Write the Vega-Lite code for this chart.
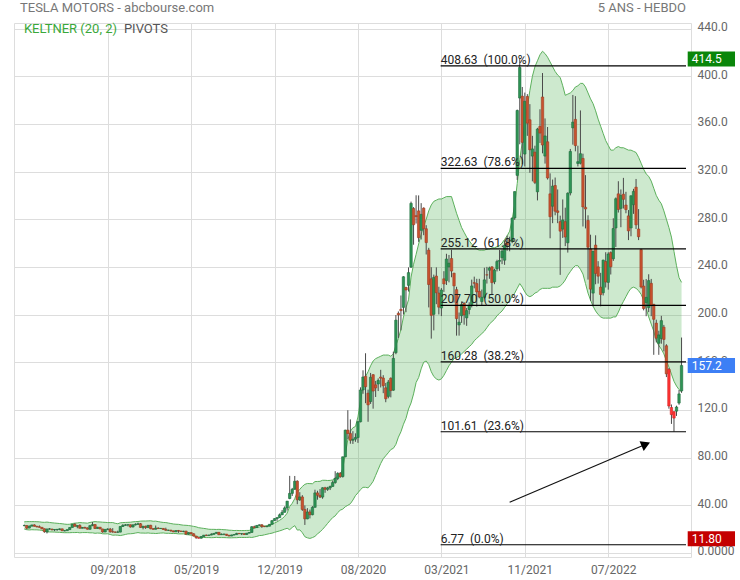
{
"$schema":"https://vega.github.io/schema/vega-lite/v6.json",
"width":677,"height":534,
"autosize":{"type":"none"},
"padding":{"left":14,"top":23,"right":49,"bottom":23},
"background":"#ffffff",
"config":{"view":{"stroke":"#dddddd"},"font":"Roboto"},
"datasets":{
"candles":[
{"d":"2018-01-29","o":22.8,"h":23.7,"l":22.4,"c":22.9,"u":26.0,"k":20.0},
{"d":"2018-02-05","o":22.9,"h":23.2,"l":19.7,"c":20.7,"u":26.2,"k":19.4},
{"d":"2018-02-12","o":20.8,"h":22.9,"l":20.6,"c":22.4,"u":26.2,"k":19.2},
{"d":"2018-02-19","o":22.4,"h":23.5,"l":22.2,"c":23.4,"u":26.2,"k":19.4},
{"d":"2018-02-26","o":23.4,"h":24.0,"l":22.0,"c":22.3,"u":26.2,"k":19.3},
{"d":"2018-03-05","o":22.3,"h":22.6,"l":21.3,"c":21.8,"u":26.1,"k":19.3},
{"d":"2018-03-12","o":21.9,"h":23.0,"l":21.2,"c":21.4,"u":26.0,"k":19.1},
{"d":"2018-03-19","o":21.4,"h":21.5,"l":20.0,"c":20.1,"u":25.7,"k":18.9},
{"d":"2018-03-26","o":20.2,"h":20.4,"l":16.9,"c":17.7,"u":25.6,"k":18.2},
{"d":"2018-04-02","o":17.6,"h":20.3,"l":16.3,"c":20.0,"u":25.8,"k":17.6},
{"d":"2018-04-09","o":20.0,"h":20.8,"l":19.4,"c":20.1,"u":25.5,"k":17.5},
{"d":"2018-04-16","o":19.9,"h":20.2,"l":18.9,"c":19.3,"u":25.2,"k":17.5},
{"d":"2018-04-23","o":19.3,"h":19.8,"l":18.2,"c":19.6,"u":25.0,"k":17.4},
{"d":"2018-04-30","o":19.6,"h":20.0,"l":18.4,"c":19.7,"u":24.8,"k":17.3},
{"d":"2018-05-07","o":19.6,"h":20.5,"l":19.0,"c":20.1,"u":24.6,"k":17.2},
{"d":"2018-05-14","o":20.1,"h":20.3,"l":18.3,"c":18.5,"u":24.4,"k":17.0},
{"d":"2018-05-21","o":18.5,"h":19.2,"l":18.0,"c":18.6,"u":24.1,"k":16.9},
{"d":"2018-05-28","o":18.6,"h":19.5,"l":18.4,"c":19.5,"u":23.9,"k":16.9},
{"d":"2018-06-04","o":19.5,"h":21.5,"l":19.3,"c":21.2,"u":24.0,"k":16.9},
{"d":"2018-06-11","o":21.3,"h":24.2,"l":21.2,"c":23.9,"u":24.6,"k":17.0},
{"d":"2018-06-18","o":24.0,"h":24.9,"l":22.2,"c":22.2,"u":24.9,"k":17.0},
{"d":"2018-06-25","o":22.2,"h":23.0,"l":20.6,"c":22.9,"u":25.1,"k":17.1},
{"d":"2018-07-02","o":22.9,"h":24.0,"l":20.5,"c":20.6,"u":25.4,"k":16.8},
{"d":"2018-07-09","o":20.6,"h":21.6,"l":20.5,"c":21.3,"u":25.2,"k":17.0},
{"d":"2018-07-16","o":21.3,"h":21.9,"l":20.2,"c":20.9,"u":25.1,"k":17.0},
{"d":"2018-07-23","o":20.9,"h":21.3,"l":19.6,"c":19.8,"u":24.9,"k":17.0},
{"d":"2018-07-30","o":19.8,"h":23.2,"l":19.4,"c":22.8,"u":25.5,"k":16.8},
{"d":"2018-08-06","o":22.8,"h":25.8,"l":22.4,"c":23.7,"u":25.9,"k":16.8},
{"d":"2018-08-13","o":23.7,"h":24.1,"l":20.0,"c":20.4,"u":26.2,"k":16.4},
{"d":"2018-08-20","o":20.4,"h":21.8,"l":20.2,"c":21.5,"u":26.0,"k":16.6},
{"d":"2018-08-27","o":21.5,"h":21.7,"l":19.8,"c":20.1,"u":25.9,"k":16.5},
{"d":"2018-09-03","o":20.0,"h":20.2,"l":16.9,"c":17.5,"u":25.7,"k":16.0},
{"d":"2018-09-10","o":17.5,"h":19.8,"l":17.3,"c":19.7,"u":25.6,"k":15.9},
{"d":"2018-09-17","o":19.7,"h":20.6,"l":19.0,"c":19.9,"u":25.4,"k":16.0},
{"d":"2018-09-24","o":19.9,"h":20.9,"l":16.9,"c":17.7,"u":25.4,"k":15.4},
{"d":"2018-10-01","o":17.7,"h":20.7,"l":16.9,"c":17.5,"u":25.4,"k":14.8},
{"d":"2018-10-08","o":17.5,"h":17.8,"l":16.7,"c":17.3,"u":24.8,"k":14.9},
{"d":"2018-10-15","o":17.3,"h":18.6,"l":16.8,"c":17.4,"u":24.4,"k":14.8},
{"d":"2018-10-22","o":17.4,"h":22.3,"l":17.2,"c":22.1,"u":25.2,"k":14.5},
{"d":"2018-10-29","o":22.1,"h":24.0,"l":21.7,"c":23.1,"u":25.4,"k":14.9},
{"d":"2018-11-05","o":23.1,"h":24.2,"l":22.7,"c":23.4,"u":25.5,"k":15.4},
{"d":"2018-11-12","o":23.4,"h":23.8,"l":22.2,"c":23.6,"u":25.6,"k":15.9},
{"d":"2018-11-19","o":23.6,"h":23.7,"l":21.2,"c":21.7,"u":25.7,"k":16.0},
{"d":"2018-11-26","o":21.7,"h":24.0,"l":21.3,"c":23.4,"u":26.0,"k":16.2},
{"d":"2018-12-03","o":23.4,"h":24.8,"l":23.0,"c":23.9,"u":26.2,"k":16.6},
{"d":"2018-12-10","o":23.9,"h":25.3,"l":23.6,"c":24.4,"u":26.3,"k":17.0},
{"d":"2018-12-17","o":24.4,"h":25.0,"l":21.0,"c":21.3,"u":26.6,"k":16.6},
{"d":"2018-12-24","o":21.3,"h":22.6,"l":19.7,"c":22.3,"u":26.7,"k":16.6},
{"d":"2018-12-31","o":22.3,"h":22.8,"l":20.1,"c":21.2,"u":26.7,"k":16.5},
{"d":"2019-01-07","o":21.2,"h":23.2,"l":21.0,"c":23.1,"u":26.8,"k":16.7},
{"d":"2019-01-14","o":23.1,"h":23.5,"l":19.8,"c":20.2,"u":26.9,"k":16.4},
{"d":"2019-01-21","o":20.2,"h":20.8,"l":19.4,"c":19.8,"u":26.5,"k":16.4},
{"d":"2019-01-28","o":19.8,"h":22.9,"l":19.6,"c":20.8,"u":26.6,"k":16.2},
{"d":"2019-02-04","o":20.8,"h":21.4,"l":20.1,"c":20.4,"u":26.2,"k":16.4},
{"d":"2019-02-11","o":20.4,"h":20.9,"l":20.2,"c":20.5,"u":25.8,"k":16.6},
{"d":"2019-02-18","o":20.5,"h":20.7,"l":19.4,"c":19.6,"u":25.5,"k":16.7},
{"d":"2019-02-25","o":19.6,"h":21.1,"l":18.5,"c":18.9,"u":25.4,"k":16.4},
{"d":"2019-03-04","o":18.9,"h":19.4,"l":18.3,"c":19.0,"u":25.0,"k":16.4},
{"d":"2019-03-11","o":19.0,"h":19.3,"l":17.8,"c":18.4,"u":24.6,"k":16.3},
{"d":"2019-03-18","o":18.4,"h":18.7,"l":17.4,"c":17.6,"u":24.2,"k":16.2},
{"d":"2019-03-25","o":17.6,"h":18.9,"l":17.5,"c":18.7,"u":24.0,"k":16.2},
{"d":"2019-04-01","o":18.7,"h":19.2,"l":16.8,"c":18.3,"u":23.9,"k":15.9},
{"d":"2019-04-08","o":18.3,"h":18.5,"l":17.6,"c":17.9,"u":23.5,"k":15.9},
{"d":"2019-04-15","o":17.9,"h":18.5,"l":17.3,"c":18.2,"u":23.2,"k":15.9},
{"d":"2019-04-22","o":18.2,"h":18.5,"l":15.3,"c":15.7,"u":23.1,"k":15.3},
{"d":"2019-04-29","o":15.7,"h":17.2,"l":15.2,"c":17.0,"u":22.9,"k":15.1},
{"d":"2019-05-06","o":17.0,"h":17.1,"l":15.4,"c":16.0,"u":22.6,"k":14.8},
{"d":"2019-05-13","o":16.0,"h":16.4,"l":13.8,"c":14.1,"u":22.2,"k":14.3},
{"d":"2019-05-20","o":14.1,"h":14.2,"l":11.8,"c":12.7,"u":21.8,"k":13.7},
{"d":"2019-05-27","o":12.7,"h":13.0,"l":12.0,"c":12.3,"u":21.1,"k":13.4},
{"d":"2019-06-03","o":12.3,"h":14.0,"l":11.9,"c":13.6,"u":20.8,"k":13.0},
{"d":"2019-06-10","o":13.6,"h":15.0,"l":13.5,"c":14.8,"u":20.5,"k":12.9},
{"d":"2019-06-17","o":14.8,"h":15.4,"l":14.1,"c":14.6,"u":20.2,"k":12.8},
{"d":"2019-06-24","o":14.6,"h":15.2,"l":14.3,"c":14.9,"u":19.8,"k":12.8},
{"d":"2019-07-01","o":14.9,"h":16.5,"l":14.8,"c":15.5,"u":19.7,"k":12.7},
{"d":"2019-07-08","o":15.5,"h":16.6,"l":15.3,"c":16.3,"u":19.7,"k":12.8},
{"d":"2019-07-15","o":16.3,"h":17.3,"l":16.2,"c":17.2,"u":19.6,"k":13.0},
{"d":"2019-07-22","o":17.2,"h":17.5,"l":14.9,"c":15.2,"u":19.7,"k":12.8},
{"d":"2019-07-29","o":15.2,"h":16.3,"l":15.0,"c":15.6,"u":19.6,"k":12.8},
{"d":"2019-08-05","o":15.6,"h":16.0,"l":14.8,"c":15.7,"u":19.4,"k":12.8},
{"d":"2019-08-12","o":15.7,"h":15.8,"l":14.3,"c":14.7,"u":19.3,"k":12.7},
{"d":"2019-08-19","o":14.7,"h":15.1,"l":13.9,"c":14.1,"u":19.0,"k":12.6},
{"d":"2019-08-26","o":14.1,"h":15.2,"l":14.0,"c":15.0,"u":18.9,"k":12.6},
{"d":"2019-09-02","o":15.0,"h":15.6,"l":14.6,"c":15.3,"u":18.7,"k":12.7},
{"d":"2019-09-09","o":15.3,"h":16.8,"l":15.2,"c":16.3,"u":18.8,"k":12.7},
{"d":"2019-09-16","o":16.3,"h":16.5,"l":15.8,"c":16.0,"u":18.7,"k":12.9},
{"d":"2019-09-23","o":16.0,"h":16.5,"l":14.9,"c":16.1,"u":18.7,"k":12.9},
{"d":"2019-09-30","o":16.1,"h":16.4,"l":15.0,"c":15.4,"u":18.7,"k":12.9},
{"d":"2019-10-07","o":15.4,"h":16.6,"l":15.1,"c":16.5,"u":18.8,"k":12.9},
{"d":"2019-10-14","o":16.5,"h":17.4,"l":16.4,"c":17.1,"u":18.8,"k":13.1},
{"d":"2019-10-21","o":17.1,"h":22.3,"l":16.9,"c":21.9,"u":20.1,"k":12.9},
{"d":"2019-10-28","o":21.9,"h":22.8,"l":20.6,"c":21.2,"u":20.6,"k":13.3},
{"d":"2019-11-04","o":21.2,"h":23.1,"l":20.9,"c":23.0,"u":21.3,"k":13.8},
{"d":"2019-11-11","o":23.0,"h":23.8,"l":22.7,"c":23.5,"u":21.7,"k":14.5},
{"d":"2019-11-18","o":23.5,"h":24.1,"l":20.9,"c":22.2,"u":22.4,"k":14.6},
{"d":"2019-11-25","o":22.2,"h":22.6,"l":21.6,"c":22.0,"u":22.5,"k":15.1},
{"d":"2019-12-02","o":22.0,"h":22.6,"l":21.5,"c":22.4,"u":22.7,"k":15.6},
{"d":"2019-12-09","o":22.4,"h":24.0,"l":22.3,"c":23.9,"u":23.1,"k":16.1},
{"d":"2019-12-16","o":23.9,"h":27.4,"l":23.8,"c":27.0,"u":24.2,"k":16.5},
{"d":"2019-12-23","o":27.0,"h":29.0,"l":26.9,"c":28.7,"u":25.0,"k":17.2},
{"d":"2019-12-30","o":28.7,"h":30.0,"l":26.8,"c":29.5,"u":26.0,"k":17.8},
{"d":"2020-01-06","o":29.5,"h":33.0,"l":29.3,"c":31.9,"u":27.3,"k":18.4},
{"d":"2020-01-13","o":31.9,"h":36.0,"l":31.8,"c":34.0,"u":28.7,"k":19.1},
{"d":"2020-01-20","o":34.0,"h":39.0,"l":33.9,"c":37.7,"u":30.6,"k":19.9},
{"d":"2020-01-27","o":37.7,"h":43.5,"l":35.5,"c":43.4,"u":33.3,"k":20.6},
{"d":"2020-02-03","o":45.6,"h":64.6,"l":45.0,"c":49.9,"u":38.9,"k":19.4},
{"d":"2020-02-10","o":49.9,"h":54.5,"l":47.7,"c":53.3,"u":41.6,"k":21.3},
{"d":"2020-02-17","o":53.3,"h":64.5,"l":53.0,"c":60.1,"u":45.5,"k":22.8},
{"d":"2020-02-24","o":60.1,"h":60.9,"l":40.8,"c":44.5,"u":51.1,"k":19.1},
{"d":"2020-03-02","o":44.5,"h":50.9,"l":43.5,"c":46.9,"u":53.3,"k":19.3},
{"d":"2020-03-09","o":46.9,"h":48.4,"l":35.2,"c":36.4,"u":55.7,"k":16.9},
{"d":"2020-03-16","o":36.4,"h":39.8,"l":23.4,"c":28.5,"u":57.5,"k":13.5},
{"d":"2020-03-23","o":28.5,"h":37.5,"l":28.2,"c":34.3,"u":58.2,"k":12.6},
{"d":"2020-03-30","o":34.3,"h":36.3,"l":28.9,"c":32.0,"u":58.1,"k":12.1},
{"d":"2020-04-06","o":32.0,"h":39.2,"l":31.5,"c":38.2,"u":58.0,"k":12.8},
{"d":"2020-04-13","o":38.2,"h":53.0,"l":38.0,"c":50.3,"u":59.8,"k":13.8},
{"d":"2020-04-20","o":50.3,"h":52.1,"l":44.6,"c":48.3,"u":59.9,"k":15.9},
{"d":"2020-04-27","o":48.3,"h":53.5,"l":46.0,"c":46.8,"u":60.0,"k":17.6},
{"d":"2020-05-04","o":46.8,"h":55.0,"l":45.4,"c":54.6,"u":60.9,"k":19.7},
{"d":"2020-05-11","o":54.6,"h":55.4,"l":50.4,"c":53.3,"u":60.9,"k":22.1},
{"d":"2020-05-18","o":53.3,"h":55.4,"l":52.0,"c":54.5,"u":60.7,"k":24.7},
{"d":"2020-05-25","o":54.5,"h":56.4,"l":52.7,"c":55.7,"u":60.8,"k":27.2},
{"d":"2020-06-01","o":55.7,"h":60.6,"l":55.5,"c":59.0,"u":61.2,"k":29.6},
{"d":"2020-06-08","o":59.0,"h":68.5,"l":58.0,"c":62.4,"u":63.0,"k":31.0},
{"d":"2020-06-15","o":62.4,"h":67.6,"l":61.0,"c":66.7,"u":63.9,"k":33.8},
{"d":"2020-06-22","o":66.7,"h":67.8,"l":63.0,"c":64.0,"u":64.8,"k":35.8},
{"d":"2020-06-29","o":64.0,"h":80.7,"l":63.2,"c":80.6,"u":71.0,"k":36.7},
{"d":"2020-07-06","o":80.6,"h":103.3,"l":80.3,"c":103.0,"u":83.0,"k":38.7},
{"d":"2020-07-13","o":103.0,"h":119.7,"l":95.3,"c":100.1,"u":95.0,"k":39.9},
{"d":"2020-07-20","o":100.1,"h":112.0,"l":91.6,"c":94.5,"u":102.0,"k":41.2},
{"d":"2020-07-27","o":94.5,"h":102.1,"l":91.4,"c":95.4,"u":105.0,"k":44.3},
{"d":"2020-08-03","o":95.4,"h":100.3,"l":93.2,"c":96.8,"u":106.0,"k":48.0},
{"d":"2020-08-10","o":96.8,"h":110.7,"l":92.3,"c":110.0,"u":114.0,"k":50.4},
{"d":"2020-08-17","o":110.0,"h":138.9,"l":109.5,"c":136.7,"u":128.0,"k":53.0},
{"d":"2020-08-24","o":136.7,"h":153.2,"l":133.5,"c":147.6,"u":139.0,"k":55.0},
{"d":"2020-08-31","o":148.2,"h":167.5,"l":125.6,"c":139.4,"u":148.0,"k":55.0},
{"d":"2020-09-07","o":134.0,"h":137.0,"l":110.0,"c":124.2,"u":152.0,"k":54.5},
{"d":"2020-09-14","o":127.0,"h":151.0,"l":125.0,"c":147.4,"u":157.0,"k":57.0},
{"d":"2020-09-21","o":149.5,"h":150.0,"l":121.0,"c":135.8,"u":161.0,"k":60.0},
{"d":"2020-09-28","o":141.0,"h":144.3,"l":130.8,"c":138.4,"u":163.0,"k":65.0},
{"d":"2020-10-05","o":141.7,"h":146.4,"l":135.8,"c":144.7,"u":164.0,"k":70.0},
{"d":"2020-10-12","o":147.5,"h":153.6,"l":138.8,"c":146.6,"u":165.0,"k":75.0},
{"d":"2020-10-19","o":146.7,"h":149.1,"l":134.0,"c":140.2,"u":166.0,"k":79.0},
{"d":"2020-10-26","o":138.5,"h":142.6,"l":126.4,"c":129.3,"u":166.0,"k":81.5},
{"d":"2020-11-02","o":131.3,"h":145.1,"l":129.7,"c":143.3,"u":166.0,"k":84.0},
{"d":"2020-11-09","o":146.5,"h":147.3,"l":130.5,"c":136.2,"u":165.0,"k":86.7},
{"d":"2020-11-16","o":136.5,"h":168.8,"l":136.0,"c":163.2,"u":167.0,"k":87.7},
{"d":"2020-11-23","o":168.0,"h":199.6,"l":166.7,"c":195.3,"u":174.0,"k":91.0},
{"d":"2020-11-30","o":201.0,"h":202.6,"l":180.4,"c":199.7,"u":180.0,"k":97.1},
{"d":"2020-12-07","o":204.3,"h":216.0,"l":186.7,"c":203.3,"u":187.6,"k":101.6},
{"d":"2020-12-14","o":206.0,"h":232.2,"l":200.0,"c":231.7,"u":197.9,"k":107.9},
{"d":"2020-12-21","o":222.7,"h":223.3,"l":202.0,"c":220.6,"u":205.7,"k":112.9},
{"d":"2020-12-28","o":224.5,"h":239.6,"l":219.3,"c":235.2,"u":212.4,"k":120.7},
{"d":"2021-01-04","o":239.8,"h":294.8,"l":239.1,"c":293.3,"u":231.4,"k":125.8},
{"d":"2021-01-11","o":289.0,"h":290.2,"l":258.6,"c":275.4,"u":242.2,"k":133.4},
{"d":"2021-01-18","o":283.0,"h":300.1,"l":276.4,"c":282.2,"u":250.5,"k":143.0},
{"d":"2021-01-25","o":287.0,"h":300.0,"l":261.0,"c":264.5,"u":259.2,"k":147.1},
{"d":"2021-02-01","o":270.7,"h":293.5,"l":263.0,"c":284.1,"u":267.4,"k":154.4},
{"d":"2021-02-08","o":289.3,"h":290.0,"l":266.6,"c":272.0,"u":274.0,"k":160.0},
{"d":"2021-02-15","o":272.0,"h":275.0,"l":250.4,"c":260.4,"u":280.0,"k":161.0},
{"d":"2021-02-22","o":254.1,"h":256.0,"l":206.0,"c":225.2,"u":287.0,"k":158.0},
{"d":"2021-03-01","o":230.0,"h":239.7,"l":179.8,"c":199.3,"u":292.0,"k":152.0},
{"d":"2021-03-08","o":200.2,"h":233.5,"l":186.7,"c":231.2,"u":295.0,"k":148.0},
{"d":"2021-03-15","o":232.3,"h":239.6,"l":208.7,"c":218.3,"u":296.0,"k":146.0},
{"d":"2021-03-22","o":218.0,"h":223.3,"l":200.1,"c":206.2,"u":297.0,"k":145.0},
{"d":"2021-03-29","o":205.5,"h":222.2,"l":198.7,"c":220.6,"u":297.0,"k":146.0},
{"d":"2021-04-05","o":230.0,"h":236.4,"l":219.0,"c":225.7,"u":298.0,"k":149.0},
{"d":"2021-04-12","o":228.5,"h":251.0,"l":224.8,"c":246.6,"u":299.0,"k":153.0},
{"d":"2021-04-19","o":240.0,"h":250.0,"l":227.0,"c":243.1,"u":299.0,"k":157.0},
{"d":"2021-04-26","o":247.0,"h":254.3,"l":231.3,"c":236.5,"u":299.0,"k":160.0},
{"d":"2021-05-03","o":234.7,"h":235.0,"l":210.0,"c":224.1,"u":292.0,"k":163.0},
{"d":"2021-05-10","o":220.9,"h":223.3,"l":182.3,"c":196.6,"u":285.0,"k":164.0},
{"d":"2021-05-17","o":191.3,"h":201.7,"l":182.3,"c":193.6,"u":279.0,"k":165.0},
{"d":"2021-05-24","o":199.0,"h":211.0,"l":193.0,"c":208.4,"u":273.0,"k":167.0},
{"d":"2021-05-31","o":209.3,"h":210.4,"l":191.5,"c":199.7,"u":269.0,"k":169.0},
{"d":"2021-06-07","o":197.2,"h":205.5,"l":190.5,"c":203.3,"u":265.0,"k":171.0},
{"d":"2021-06-14","o":204.2,"h":210.3,"l":200.1,"c":207.8,"u":262.0,"k":173.0},
{"d":"2021-06-21","o":208.3,"h":229.3,"l":206.0,"c":224.0,"u":259.0,"k":175.0},
{"d":"2021-06-28","o":226.7,"h":231.8,"l":222.0,"c":226.3,"u":257.0,"k":178.0},
{"d":"2021-07-05","o":226.0,"h":230.0,"l":206.7,"c":219.0,"u":255.0,"k":180.0},
{"d":"2021-07-12","o":219.5,"h":230.0,"l":213.6,"c":214.7,"u":254.0,"k":182.0},
{"d":"2021-07-19","o":210.9,"h":221.0,"l":207.9,"c":214.5,"u":254.0,"k":184.0},
{"d":"2021-07-26","o":214.5,"h":239.3,"l":213.3,"c":229.1,"u":254.0,"k":186.0},
{"d":"2021-08-02","o":233.3,"h":240.0,"l":226.0,"c":233.2,"u":255.0,"k":189.0},
{"d":"2021-08-09","o":237.2,"h":240.2,"l":230.0,"c":239.1,"u":255.0,"k":192.0},
{"d":"2021-08-16","o":240.0,"h":240.5,"l":216.3,"c":226.8,"u":256.0,"k":194.0},
{"d":"2021-08-23","o":227.5,"h":238.5,"l":225.5,"c":237.3,"u":256.0,"k":196.0},
{"d":"2021-08-30","o":238.4,"h":246.0,"l":236.2,"c":244.5,"u":257.0,"k":199.0},
{"d":"2021-09-06","o":244.7,"h":254.2,"l":236.7,"c":245.4,"u":258.0,"k":201.0},
{"d":"2021-09-13","o":247.7,"h":254.6,"l":242.3,"c":253.2,"u":260.0,"k":203.0},
{"d":"2021-09-20","o":245.6,"h":262.2,"l":241.7,"c":258.1,"u":263.0,"k":206.0},
{"d":"2021-09-27","o":260.2,"h":266.3,"l":253.5,"c":258.4,"u":266.0,"k":209.0},
{"d":"2021-10-04","o":262.0,"h":265.3,"l":253.1,"c":261.8,"u":270.0,"k":212.0},
{"d":"2021-10-11","o":261.3,"h":281.3,"l":259.9,"c":281.0,"u":280.0,"k":215.0},
{"d":"2021-10-18","o":281.1,"h":303.3,"l":279.5,"c":303.2,"u":292.0,"k":218.0},
{"d":"2021-10-25","o":316.8,"h":372.0,"l":313.0,"c":371.3,"u":310.0,"k":222.0},
{"d":"2021-11-01","o":381.7,"h":414.5,"l":342.9,"c":407.4,"u":330.0,"k":226.0},
{"d":"2021-11-08","o":383.3,"h":391.0,"l":326.3,"c":344.5,"u":345.0,"k":223.0},
{"d":"2021-11-15","o":334.7,"h":386.3,"l":324.3,"c":379.0,"u":362.0,"k":219.0},
{"d":"2021-11-22","o":383.0,"h":385.0,"l":350.0,"c":360.6,"u":374.0,"k":216.0},
{"d":"2021-11-29","o":363.5,"h":376.6,"l":319.0,"c":338.3,"u":388.0,"k":215.0},
{"d":"2021-12-06","o":333.0,"h":350.0,"l":311.8,"c":339.0,"u":400.0,"k":216.0},
{"d":"2021-12-13","o":336.3,"h":341.7,"l":309.5,"c":310.9,"u":408.0,"k":218.0},
{"d":"2021-12-20","o":303.0,"h":356.7,"l":295.8,"c":355.7,"u":413.0,"k":219.0},
{"d":"2021-12-27","o":357.9,"h":372.3,"l":344.0,"c":352.3,"u":418.0,"k":221.0},
{"d":"2022-01-03","o":382.6,"h":402.7,"l":335.3,"c":342.3,"u":421.0,"k":222.0},
{"d":"2022-01-10","o":333.0,"h":364.6,"l":326.7,"c":349.9,"u":419.0,"k":222.0},
{"d":"2022-01-17","o":345.0,"h":357.4,"l":313.3,"c":314.6,"u":416.0,"k":222.0},
{"d":"2022-01-24","o":301.3,"h":318.5,"l":264.0,"c":282.1,"u":412.0,"k":222.0},
{"d":"2022-01-31","o":290.9,"h":313.3,"l":276.7,"c":307.8,"u":408.0,"k":223.0},
{"d":"2022-02-07","o":308.3,"h":315.0,"l":283.3,"c":286.7,"u":404.0,"k":223.0},
{"d":"2022-02-14","o":287.0,"h":305.0,"l":276.7,"c":285.7,"u":401.0,"k":223.0},
{"d":"2022-02-21","o":278.0,"h":283.0,"l":233.3,"c":270.0,"u":399.0,"k":224.0},
{"d":"2022-02-28","o":271.7,"h":296.6,"l":264.3,"c":279.4,"u":392.0,"k":226.0},
{"d":"2022-03-07","o":278.0,"h":289.7,"l":257.4,"c":265.1,"u":384.0,"k":229.0},
{"d":"2022-03-14","o":260.2,"h":302.6,"l":252.0,"c":301.8,"u":385.0,"k":233.0},
{"d":"2022-03-21","o":302.0,"h":339.0,"l":300.0,"c":336.9,"u":386.0,"k":236.0},
{"d":"2022-03-28","o":356.7,"h":384.3,"l":342.6,"c":361.5,"u":388.0,"k":239.0},
{"d":"2022-04-04","o":363.8,"h":383.3,"l":337.0,"c":341.8,"u":391.0,"k":241.0},
{"d":"2022-04-11","o":326.8,"h":341.7,"l":324.3,"c":328.3,"u":392.0,"k":241.0},
{"d":"2022-04-18","o":327.0,"h":371.3,"l":326.0,"c":335.0,"u":394.0,"k":238.0},
{"d":"2022-04-25","o":331.0,"h":335.0,"l":273.9,"c":290.3,"u":394.0,"k":234.0},
{"d":"2022-05-02","o":290.0,"h":317.0,"l":272.3,"c":288.6,"u":391.0,"k":226.0},
{"d":"2022-05-09","o":279.0,"h":283.3,"l":229.3,"c":256.5,"u":386.0,"k":218.0},
{"d":"2022-05-16","o":255.0,"h":267.0,"l":211.5,"c":221.3,"u":381.0,"k":212.0},
{"d":"2022-05-23","o":218.0,"h":253.5,"l":206.9,"c":253.2,"u":377.0,"k":207.0},
{"d":"2022-05-30","o":258.3,"h":266.5,"l":225.4,"c":234.5,"u":371.0,"k":203.0},
{"d":"2022-06-06","o":240.0,"h":244.8,"l":226.0,"c":232.2,"u":364.0,"k":200.0},
{"d":"2022-06-13","o":223.0,"h":235.0,"l":206.9,"c":216.8,"u":358.0,"k":198.0},
{"d":"2022-06-20","o":218.3,"h":246.0,"l":216.0,"c":245.7,"u":352.0,"k":197.0},
{"d":"2022-06-27","o":244.5,"h":252.3,"l":222.7,"c":227.3,"u":346.0,"k":197.0},
{"d":"2022-07-04","o":227.0,"h":252.3,"l":220.9,"c":250.8,"u":342.0,"k":197.0},
{"d":"2022-07-11","o":252.0,"h":253.0,"l":233.6,"c":240.1,"u":338.0,"k":197.0},
{"d":"2022-07-18","o":246.8,"h":280.8,"l":245.0,"c":272.2,"u":338.0,"k":198.0},
{"d":"2022-07-25","o":272.7,"h":298.3,"l":256.7,"c":297.2,"u":340.0,"k":198.0},
{"d":"2022-08-01","o":301.3,"h":311.9,"l":285.6,"c":288.2,"u":341.0,"k":202.0},
{"d":"2022-08-08","o":289.1,"h":305.0,"l":273.3,"c":300.0,"u":340.0,"k":207.0},
{"d":"2022-08-15","o":301.0,"h":314.7,"l":289.0,"c":296.7,"u":340.0,"k":211.0},
{"d":"2022-08-22","o":291.9,"h":303.0,"l":285.0,"c":288.1,"u":339.0,"k":215.0},
{"d":"2022-08-29","o":282.8,"h":287.7,"l":262.5,"c":270.2,"u":338.0,"k":219.0},
{"d":"2022-09-05","o":272.7,"h":299.9,"l":265.7,"c":299.7,"u":338.0,"k":222.0},
{"d":"2022-09-12","o":292.2,"h":305.5,"l":284.5,"c":303.4,"u":337.0,"k":223.0},
{"d":"2022-09-19","o":306.9,"h":313.8,"l":271.8,"c":275.3,"u":336.0,"k":222.0},
{"d":"2022-09-26","o":271.8,"h":288.5,"l":262.5,"c":265.3,"u":332.0,"k":220.0},
{"d":"2022-10-03","o":254.5,"h":255.2,"l":221.9,"c":223.1,"u":327.0,"k":217.0},
{"d":"2022-10-10","o":223.9,"h":229.2,"l":203.5,"c":205.0,"u":322.0,"k":212.0},
{"d":"2022-10-17","o":210.0,"h":229.8,"l":198.6,"c":214.4,"u":318.0,"k":205.0},
{"d":"2022-10-24","o":205.8,"h":233.8,"l":202.0,"c":228.5,"u":316.0,"k":198.0},
{"d":"2022-10-31","o":226.2,"h":229.9,"l":198.6,"c":207.5,"u":312.0,"k":192.0},
{"d":"2022-11-07","o":208.6,"h":208.9,"l":166.2,"c":196.0,"u":306.0,"k":186.0},
{"d":"2022-11-14","o":192.8,"h":195.7,"l":176.6,"c":180.2,"u":300.0,"k":178.0},
{"d":"2022-11-21","o":175.9,"h":186.4,"l":166.2,"c":182.9,"u":296.0,"k":174.0},
{"d":"2022-11-28","o":179.9,"h":198.9,"l":175.5,"c":194.9,"u":293.0,"k":171.0},
{"d":"2022-12-05","o":189.4,"h":191.3,"l":169.1,"c":179.1,"u":287.0,"k":167.0},
{"d":"2022-12-12","o":173.8,"h":175.1,"l":147.5,"c":150.2,"u":280.0,"k":161.0},
{"d":"2022-12-19","o":154.0,"h":155.2,"l":121.0,"c":123.2,"u":273.0,"k":156.0},
{"d":"2022-12-26","o":122.0,"h":124.5,"l":108.2,"c":116.0,"u":265.0,"k":150.0},
{"d":"2023-01-02","o":118.5,"h":118.8,"l":101.8,"c":113.1,"u":253.0,"k":144.0},
{"d":"2023-01-09","o":118.9,"h":123.5,"l":114.9,"c":122.4,"u":241.0,"k":140.0},
{"d":"2023-01-16","o":125.7,"h":136.7,"l":124.3,"c":133.4,"u":231.0,"k":137.0},
{"d":"2023-01-23","o":135.9,"h":180.7,"l":134.3,"c":157.2,"u":227.0,"k":135.0}
],
"fib":[
{"v":408.63,"t":"408.63\u00a0 (100.0%)"},
{"v":322.63,"t":"322.63\u00a0 (78.6%)"},
{"v":255.12,"t":"255.12\u00a0 (61.8%)"},
{"v":207.70,"t":"207.70\u00a0 (50.0%)"},
{"v":160.28,"t":"160.28\u00a0 (38.2%)"},
{"v":101.61,"t":"101.61\u00a0 (23.6%)"},
{"v":6.77,"t":"6.77\u00a0 (0.0%)"}
],
"badges":[
{"v":414.5,"t":"414.5","kind":"high"},
{"v":157.2,"t":"157.2","kind":"last"},
{"v":11.8,"t":"11.80","kind":"low"}
]
},
"layer":[
{"data":{"name":"candles"},
 "mark":{"type":"area","color":"#4caf50","opacity":0.28},
 "encoding":{
  "x":{"field":"d","type":"temporal","title":null,
   "scale":{"type":"utc","domain":[{"year":2018,"month":1,"date":14,"hours":12,"utc":true},{"year":2023,"month":2,"date":4,"hours":7,"utc":true}]},
   "axis":{"title":null,"values":[{"year":2018,"month":9,"date":17,"utc":true},{"year":2019,"month":5,"date":6,"utc":true},{"year":2019,"month":12,"date":23,"utc":true},{"year":2020,"month":8,"date":10,"utc":true},{"year":2021,"month":3,"date":29,"utc":true},{"year":2021,"month":11,"date":15,"utc":true},{"year":2022,"month":7,"date":4,"utc":true}],
    "format":"%m/%Y","labelOffset":5,"grid":true,"gridColor":"#dddddd","ticks":false,"domain":false,"labelColor":"#666666","labelFont":"Roboto","labelFontSize":12,"labelPadding":7,"labelFlush":false,"labelOverlap":false}},
  "y":{"field":"u","type":"quantitative","title":null,
   "scale":{"domain":[-3.5,444.7],"nice":false,"zero":false},
   "axis":{"title":null,"orient":"right","values":[0,40,80,120,160,200,240,280,320,360,400,440],
    "labelExpr":"datum.value >= 100 ? format(datum.value, '.1f') : (datum.value >= 10 ? format(datum.value, '.2f') : format(datum.value, '.4f'))",
    "grid":true,"gridColor":"#dddddd","ticks":false,"domain":false,"labelColor":"#666666","labelFont":"Roboto","labelFontSize":12,"labelPadding":6,"labelAlign":"left","labelBaseline":"middle","labelOffset":-2,"labelFlush":false,"labelOverlap":false,"zindex":0}},
  "y2":{"field":"k"}}},
{"data":{"name":"candles"},
 "mark":{"type":"line","color":"#5cb05c","strokeWidth":1},
 "encoding":{"x":{"field":"d","type":"temporal","title":null},"y":{"field":"u","type":"quantitative","title":null}}},
{"data":{"name":"candles"},
 "mark":{"type":"line","color":"#5cb05c","strokeWidth":1},
 "encoding":{"x":{"field":"d","type":"temporal","title":null},"y":{"field":"k","type":"quantitative","title":null}}},
{"data":{"name":"candles"},
 "mark":{"type":"rule","color":"#4a4a4a","strokeWidth":1},
 "encoding":{"x":{"field":"d","type":"temporal","title":null},"y":{"field":"l","type":"quantitative","title":null},"y2":{"field":"h"}}},
{"data":{"name":"candles"},
 "mark":{"type":"bar","width":2.4,"strokeWidth":0.6},
 "encoding":{"x":{"field":"d","type":"temporal","title":null},"y":{"field":"o","type":"quantitative","title":null},"y2":{"field":"c"},
  "fill":{"condition":[{"test":"datum.c < datum.o && datum.o < datum.k","value":"#ff3333"},{"test":"datum.c < datum.o","value":"#c9522f"}],"value":"#2e9455"},
  "stroke":{"condition":[{"test":"datum.c < datum.o && datum.o < datum.k","value":"#d42020"},{"test":"datum.c < datum.o","value":"#9c3a20"}],"value":"#1f6b3c"}}},
{"data":{"name":"fib"},
 "mark":{"type":"rule","color":"#000000","strokeWidth":1.2},
 "encoding":{"x":{"datum":{"year":2021,"month":3,"date":27,"utc":true},"type":"temporal"},"x2":{"datum":{"year":2023,"month":2,"date":4,"hours":7,"utc":true}},"y":{"field":"v","type":"quantitative","title":null}}},
{"data":{"name":"fib"},
 "mark":{"type":"text","align":"left","baseline":"alphabetic","dy":-2,"font":"Roboto","fontSize":12,"color":"#222222"},
 "encoding":{"x":{"datum":{"year":2021,"month":3,"date":27,"utc":true},"type":"temporal"},"y":{"field":"v","type":"quantitative","title":null},"text":{"field":"t"}}},
{"data":{"values":[{}]},
 "mark":{"type":"rule","color":"#111111","strokeWidth":1.2},
 "encoding":{"x":{"datum":{"year":2021,"month":10,"date":4,"utc":true},"type":"temporal"},"y":{"datum":42.4,"type":"quantitative"},"x2":{"datum":{"year":2022,"month":10,"date":16,"utc":true}},"y2":{"datum":91.1}}},
{"data":{"values":[{}]},
 "mark":{"type":"point","shape":"triangle-up","filled":true,"color":"#000000","size":110,"angle":67,"opacity":1},
 "encoding":{"x":{"datum":{"year":2022,"month":10,"date":16,"utc":true},"type":"temporal"},"y":{"datum":91.1,"type":"quantitative"}}},
{"data":{"values":[{}]},
 "mark":{"type":"text","text":"KELTNER (20, 2)","align":"left","baseline":"alphabetic","font":"Roboto","fontSize":13,"color":"#3aa83a"},
 "encoding":{"x":{"datum":{"year":2018,"month":1,"date":28,"utc":true},"type":"temporal"},"y":{"datum":436.5,"type":"quantitative"}}},
{"data":{"values":[{}]},
 "mark":{"type":"text","text":"PIVOTS","align":"left","baseline":"alphabetic","font":"Roboto","fontSize":13,"color":"#555555"},
 "encoding":{"x":{"datum":{"year":2018,"month":11,"date":1,"utc":true},"type":"temporal"},"y":{"datum":436.5,"type":"quantitative"}}},
{"data":{"values":[{}]},
 "mark":{"type":"text","text":"TESLA MOTORS - abcbourse.com","align":"left","baseline":"alphabetic","font":"Roboto","fontSize":13,"color":"#777777"},
 "encoding":{"x":{"datum":{"year":2018,"month":1,"date":17,"hours":7,"utc":true},"type":"temporal"},"y":{"datum":453.8,"type":"quantitative"}}},
{"data":{"values":[{}]},
 "mark":{"type":"text","text":"5 ANS - HEBDO","align":"right","baseline":"alphabetic","font":"Roboto","fontSize":13,"color":"#777777"},
 "encoding":{"x":{"datum":{"year":2023,"month":2,"date":4,"hours":7,"utc":true},"type":"temporal"},"y":{"datum":453.8,"type":"quantitative"}}},
{"data":{"name":"badges"},
 "mark":{"type":"rule","strokeWidth":15,"strokeCap":"butt"},
 "encoding":{"x":{"datum":{"year":2023,"month":2,"date":9,"utc":true},"type":"temporal"},"x2":{"datum":{"year":2023,"month":6,"date":20,"utc":true}},"y":{"field":"v","type":"quantitative","title":null},
  "color":{"field":"kind","type":"nominal","legend":null,"scale":{"domain":["high","last","low"],"range":["#0a860a","#3d7ff5","#c40000"]}}}},
{"data":{"name":"badges"},
 "mark":{"type":"text","align":"left","baseline":"middle","font":"Roboto","fontSize":12,"color":"#ffffff"},
 "encoding":{"x":{"datum":{"year":2023,"month":2,"date":20,"utc":true},"type":"temporal"},"y":{"field":"v","type":"quantitative","title":null},"text":{"field":"t"}}}
]
}
